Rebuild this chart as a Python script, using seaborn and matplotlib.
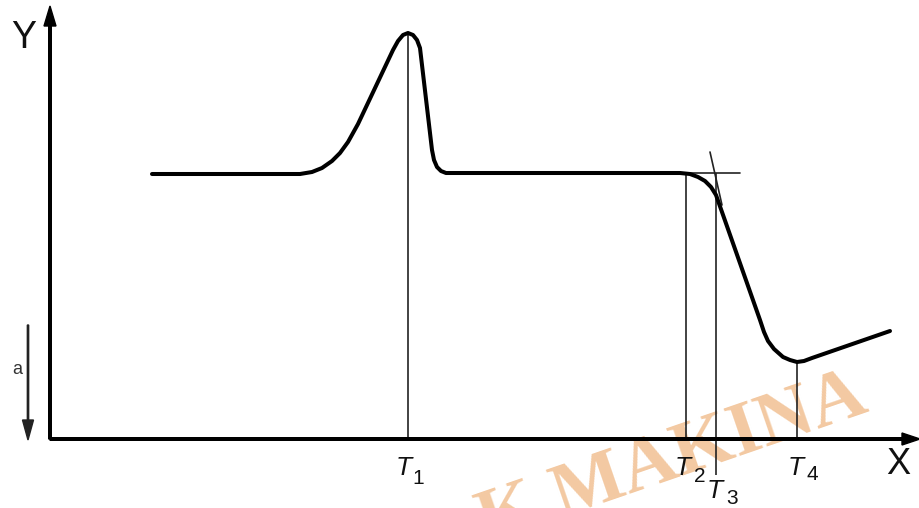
import matplotlib
matplotlib.use("Agg")
import matplotlib.pyplot as plt
import numpy as np
import pandas as pd
import seaborn as sns

sns.set_theme(style="white")
plt.rcParams["font.family"] = ["Liberation Sans", "DejaVu Sans"]

# Schematic signal curve (origin at the axis crossing)
curve_x = [102, 200, 250, 262, 272, 282, 290, 298, 308, 343, 348, 353, 358, 363, 367, 370,
           382, 384, 387, 391, 396, 630, 640, 648, 655, 661, 666, 710, 714, 718, 724,
           733, 740, 747, 754, 762, 840]
curve_y = [265, 265, 265, 267, 271, 278, 286, 297, 315, 389, 398, 404, 406, 404, 399, 391,
           289, 279, 272, 268, 266, 266, 265, 262, 258, 252, 244, 119, 107, 98, 90,
           82, 79, 77, 78, 81, 108]

# Construction lines around the onset of the drop
flat_x = [610, 690]
flat_y = [266, 266]
slope_x = [660, 672]
slope_y = [287, 234]

# Characteristic temperatures
temp_names = ["1", "2", "3", "4"]
temp_x = [358, 636, 666, 747]
temp_top = [406, 266, 266, 77]
temp_bottom = [0, 0, -36, 0]

fig = plt.figure(figsize=(9.2, 5.08), dpi=100)
ax = fig.add_axes([0, 0, 1, 1])
ax.set_xlim(-50, 870)
ax.set_ylim(-69, 439)
ax.axis("off")

# Watermark behind everything
ax.text(820, 28, "K MAKINA", family=["Liberation Serif", "DejaVu Serif"],
        weight="bold", fontsize=55, color="#f3c9a2", rotation=19,
        rotation_mode="anchor", ha="right", va="baseline", zorder=0)

# Axes with arrow heads
ax.arrow(0, 0, 0, 433, width=2.6, head_width=12, head_length=20,
         length_includes_head=True, color="black", zorder=3)
ax.arrow(0, 0, 870, 0, width=2.6, head_width=12, head_length=18,
         length_includes_head=True, color="black", zorder=3)
ax.text(-26, 401, "Y", fontsize=27, ha="center", va="center", color="#111")
ax.text(848, -26, "X", fontsize=26, ha="center", va="center", color="#111")

# Direction marker "a"
ax.arrow(-22, 114, 0, -115, width=1.3, head_width=11, head_length=20,
         length_includes_head=True, color="#222", zorder=3)
ax.text(-33, 69, "a", fontsize=13, ha="center", va="center", color="#333")

# Vertical temperature markers
ax.vlines(temp_x, temp_bottom, temp_top, colors="#222", linewidth=1.2, zorder=2)
ax.plot(flat_x, flat_y, color="#222", linewidth=1.2, zorder=2)
ax.plot(slope_x, slope_y, color="#222", linewidth=1.2, zorder=2)

# Main curve
df = pd.DataFrame({"x": curve_x, "y": curve_y})
sns.lineplot(data=df, x="x", y="y", sort=False, estimator=None, color="black",
             linewidth=2.9, ax=ax, zorder=4)
ax.lines[-1].set_solid_capstyle("round")
ax.lines[-1].set_solid_joinstyle("round")

# Temperature labels
t_pos = [(354, -29), (633, -29), (665, -52), (746, -29)]
d_pos = [(368, -39), (650, -37), (682, -60), (762, -36)]
for name, (tx, ty), (dx, dy) in zip(temp_names, t_pos, d_pos):
    ax.text(tx, ty, "T", style="italic", fontsize=19, ha="center", va="center", color="#111")
    ax.text(dx, dy, name, fontsize=15, ha="center", va="center", color="#111")

fig.savefig("out.png", dpi=100)
